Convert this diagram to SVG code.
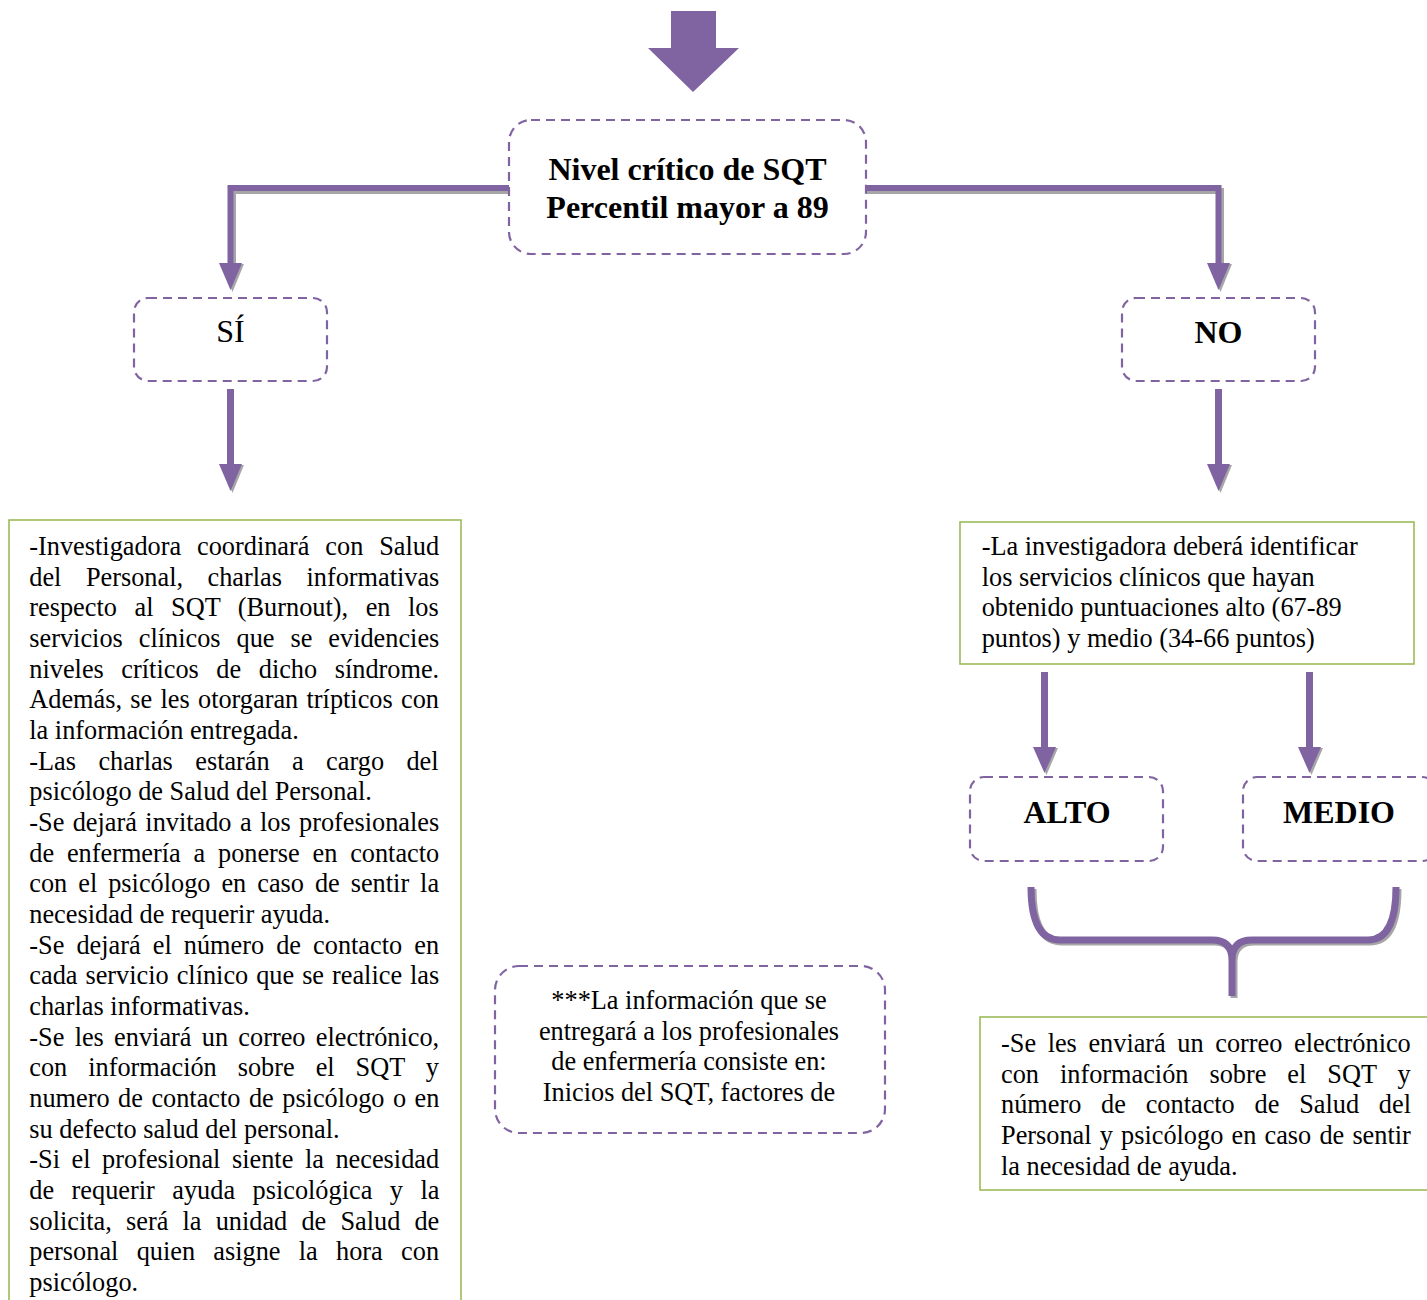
<svg xmlns="http://www.w3.org/2000/svg" width="1427" height="1300" viewBox="0 0 1427 1300">
<style>
.dash{fill:#fff;stroke:#8064A2;stroke-width:2.2;stroke-dasharray:9 6}
.green{fill:#fff;stroke:#9BBB59;stroke-width:1.6}
.t{font-family:"Liberation Serif","Times New Roman",serif;font-size:26.3px;fill:#000}
.tb{font-family:"Liberation Serif","Times New Roman",serif;font-size:32px;font-weight:bold;fill:#000}
.tr{font-family:"Liberation Serif","Times New Roman",serif;font-size:32px;fill:#000}
.ln{fill:none;stroke:#8064A2;stroke-width:6}
.sh{fill:none;stroke:#A6A6A6;stroke-width:6}
.ah{fill:#8064A2}
.ahs{fill:#A6A6A6}
</style>
<rect width="1427" height="1300" fill="#fff"/>
<g id="connectors">
  <polygon class="ah" points="671,11 716,11 716,48 739,48 693,92 648,48 671,48"/>
  <!-- left branch -->
  <path class="sh" d="M509,191 H233 V265"/>
  <path class="ln" d="M509,188 H230.5 V265"/>
  <polygon class="ahs" points="221,264 244,264 232.5,292"/>
  <polygon class="ah" points="219,263 242,263 230.5,290"/>
  <!-- right branch -->
  <path class="sh" d="M866,191 H1221 V265"/>
  <path class="ln" d="M866,188 H1218.5 V265"/>
  <polygon class="ahs" points="1209,264 1232,264 1220.5,292"/>
  <polygon class="ah" points="1207,263 1230,263 1218.5,290"/>
  <!-- SI down -->
  <rect x="227" y="389" width="7" height="76" fill="#8064A2"/>
  <polygon class="ahs" points="221,465 244,465 232.5,493"/>
  <polygon class="ah" points="219,464 242,464 230.5,491"/>
  <!-- NO down -->
  <rect x="1215" y="389" width="7" height="76" fill="#8064A2"/>
  <polygon class="ahs" points="1209,465 1232,465 1220.5,493"/>
  <polygon class="ah" points="1207,464 1230,464 1218.5,491"/>
  <!-- to ALTO -->
  <rect x="1041" y="672" width="7" height="76" fill="#8064A2"/>
  <polygon class="ahs" points="1035,748 1058,748 1046.5,775"/>
  <polygon class="ah" points="1033,747 1056,747 1044.5,773"/>
  <!-- to MEDIO -->
  <rect x="1306" y="672" width="7" height="76" fill="#8064A2"/>
  <polygon class="ahs" points="1300,748 1323,748 1311.5,775"/>
  <polygon class="ah" points="1298,747 1321,747 1309.5,773"/>
  <!-- brace -->
  <path d="M1033,889 Q1033,942 1062,942 L1214,942 Q1234,942 1234,962 L1234,998 M1234,962 Q1234,942 1254,942 L1370,942 Q1398,942 1398,889" fill="none" stroke="#A6A6A6" stroke-width="7" stroke-linejoin="round"/>
  <path d="M1031,887 Q1031,940 1060,940 L1212,940 Q1232,940 1232,960 L1232,996 M1232,960 Q1232,940 1252,940 L1368,940 Q1396,940 1396,887" fill="none" stroke="#8064A2" stroke-width="7" stroke-linejoin="round"/>
</g>
<g id="node-nivel">
  <rect class="dash" x="509" y="120" width="357" height="134" rx="22"/>
  <text class="tb" x="687.5" y="180" text-anchor="middle">Nivel crítico de SQT</text>
  <text class="tb" x="687.5" y="218" text-anchor="middle">Percentil mayor a 89</text>
</g>
<g id="node-si">
  <rect class="dash" x="134" y="298" width="193" height="83" rx="14"/>
  <text class="tr" x="230.5" y="342" text-anchor="middle">SÍ</text>
</g>
<g id="node-no">
  <rect class="dash" x="1122" y="298" width="193" height="83" rx="14"/>
  <text class="tb" x="1218.5" y="343" text-anchor="middle">NO</text>
</g>
<g id="node-si-text">
  <rect class="green" x="9" y="520" width="452" height="800"/>
  <text class="t" x="29.3" y="555" word-spacing="9.3">-Investigadora coordinará con Salud</text>
  <text class="t" x="29.3" y="585.7" word-spacing="17.9">del Personal, charlas informativas</text>
  <text class="t" x="29.3" y="616.3" word-spacing="11">respecto al SQT (Burnout), en los</text>
  <text class="t" x="29.3" y="647" word-spacing="9.4">servicios clínicos que se evidencies</text>
  <text class="t" x="29.3" y="677.7" word-spacing="11">niveles críticos de dicho síndrome.</text>
  <text class="t" x="29.3" y="708.3" word-spacing="1.7">Además, se les otorgaran trípticos con</text>
  <text class="t" x="29.3" y="739">la información entregada.</text>
  <text class="t" x="29.3" y="769.7" word-spacing="15.8">-Las charlas estarán a cargo del</text>
  <text class="t" x="29.3" y="800.3">psicólogo de Salud del Personal.</text>
  <text class="t" x="29.3" y="831" word-spacing="1.8">-Se dejará invitado a los profesionales</text>
  <text class="t" x="29.3" y="861.7" word-spacing="6.2">de enfermería a ponerse en contacto</text>
  <text class="t" x="29.3" y="892.3" word-spacing="4.4">con el psicólogo en caso de sentir la</text>
  <text class="t" x="29.3" y="923">necesidad de requerir ayuda.</text>
  <text class="t" x="29.3" y="953.7" word-spacing="5.5">-Se dejará el número de contacto en</text>
  <text class="t" x="29.3" y="984.3" word-spacing="1.4">cada servicio clínico que se realice las</text>
  <text class="t" x="29.3" y="1015">charlas informativas.</text>
  <text class="t" x="29.3" y="1045.7" word-spacing="3.7">-Se les enviará un correo electrónico,</text>
  <text class="t" x="29.3" y="1076.3" word-spacing="14.4">con información sobre el SQT y</text>
  <text class="t" x="29.3" y="1107" word-spacing="1.9">numero de contacto de psicólogo o en</text>
  <text class="t" x="29.3" y="1137.7">su defecto salud del personal.</text>
  <text class="t" x="29.3" y="1168.3" word-spacing="5">-Si el profesional siente la necesidad</text>
  <text class="t" x="29.3" y="1199" word-spacing="10.9">de requerir ayuda psicológica y la</text>
  <text class="t" x="29.3" y="1229.7" word-spacing="7.6">solicita, será la unidad de Salud de</text>
  <text class="t" x="29.3" y="1260.3" word-spacing="11.7">personal quien asigne la hora con</text>
  <text class="t" x="29.3" y="1291">psicólogo.</text>
</g>
<g id="node-no-text">
  <rect class="green" x="960" y="522" width="454" height="142"/>
  <text class="t" x="981.7" y="555">-La investigadora deberá identificar</text>
  <text class="t" x="981.7" y="585.7">los servicios clínicos que hayan</text>
  <text class="t" x="981.7" y="616.3">obtenido puntuaciones alto (67-89</text>
  <text class="t" x="981.7" y="647">puntos) y medio (34-66 puntos)</text>
</g>
<g id="node-alto">
  <rect class="dash" x="970" y="777" width="193" height="84" rx="14"/>
  <text class="tb" x="1067" y="823" text-anchor="middle">ALTO</text>
</g>
<g id="node-medio">
  <rect class="dash" x="1243" y="777" width="193" height="84" rx="14"/>
  <text class="tb" x="1339" y="823" text-anchor="middle">MEDIO</text>
</g>
<g id="node-info">
  <rect class="dash" x="495" y="966" width="390" height="167" rx="24"/>
  <text class="t" x="689" y="1009" text-anchor="middle">***La información que se</text>
  <text class="t" x="689" y="1039.7" text-anchor="middle">entregará a los profesionales</text>
  <text class="t" x="689" y="1070.3" text-anchor="middle">de enfermería consiste en:</text>
  <text class="t" x="689" y="1101" text-anchor="middle">Inicios del SQT, factores de</text>
</g>
<g id="node-correo">
  <rect class="green" x="980" y="1017" width="460" height="173"/>
  <text class="t" x="1001" y="1052" word-spacing="5">-Se les enviará un correo electrónico</text>
  <text class="t" x="1001" y="1082.7" word-spacing="14.4">con información sobre el SQT y</text>
  <text class="t" x="1001" y="1113.3" word-spacing="13.2">número de contacto de Salud del</text>
  <text class="t" x="1001" y="1144" word-spacing="1.6">Personal y psicólogo en caso de sentir</text>
  <text class="t" x="1001" y="1174.7">la necesidad de ayuda.</text>
</g>
</svg>
